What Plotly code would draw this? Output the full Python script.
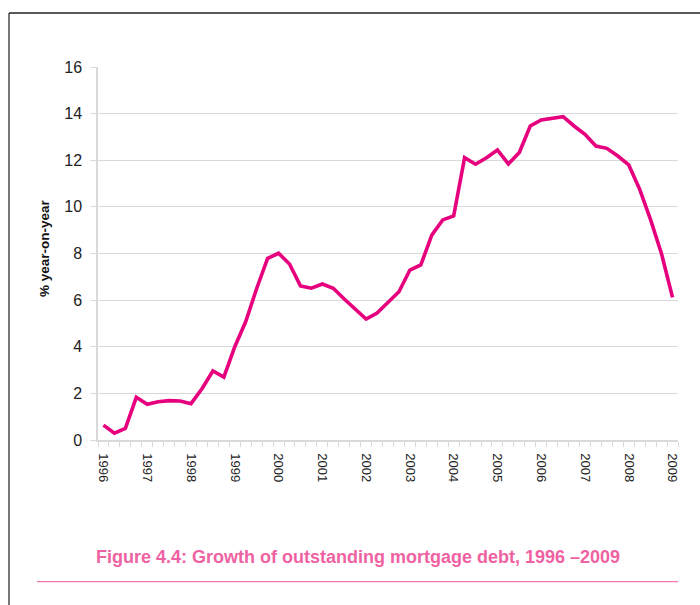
import plotly.graph_objects as go

# Quarterly observations, 1996 Q1 - 2009 Q1
years = list(range(1996, 2010))
quarters = [f"{y} Q{q}" for y in range(1996, 2010) for q in range(1, 5)][:53]
growth = [
    0.64, 0.29, 0.50, 1.83, 1.53, 1.64, 1.69, 1.67,
    1.56, 2.20, 2.96, 2.70, 4.00, 5.08, 6.50, 7.79,
    8.01, 7.55, 6.61, 6.51, 6.69, 6.51, 6.05, 5.62,
    5.19, 5.45, 5.88, 6.36, 7.29, 7.51, 8.79, 9.44,
    9.61, 12.11, 11.83, 12.11, 12.44, 11.84, 12.33, 13.47,
    13.73, 13.80, 13.87, 13.47, 13.11, 12.61, 12.51, 12.18,
    11.80, 10.75, 9.44, 7.98, 6.12,
]
year_labels = [str(y) for y in years]

x_idx = list(range(len(quarters)))
tick_pos = [quarters.index(f"{y} Q1") for y in years]

FONT = "Liberation Sans, Arial, sans-serif"
GRID = "#d9d9d9"

fig = go.Figure()
fig.add_trace(go.Scatter(
    x=x_idx, y=growth, mode="lines",
    line=dict(color="#e6007e", width=3.6),
    customdata=quarters, hovertemplate="%{customdata}: %{y}<extra></extra>",
    showlegend=False,
))

L, R, T, B = 98, 22, 67, 165
W, H = 700, 605
pw, ph = W - L - R, H - T - B

def px(xp):
    return (xp - L) / pw

def py(yp):
    return (H - B - yp) / ph

fig.update_layout(
    width=W, height=H,
    margin=dict(l=L, r=R, t=T, b=B, pad=0),
    paper_bgcolor="white", plot_bgcolor="white",
    xaxis=dict(
        range=[-0.5, len(quarters) - 0.5],
        tickmode="array", tickvals=tick_pos, ticktext=year_labels,
        tickangle=90, ticks="", showgrid=False, zeroline=False,
        showline=True, linecolor=GRID, linewidth=1.5,
        tickfont=dict(family=FONT, size=13, color="#222"),
        ticklabelstandoff=9,
        minor=dict(tick0=-0.5, dtick=1, ticks="outside", ticklen=5,
                   tickcolor=GRID, tickwidth=1, showgrid=False),
    ),
    yaxis=dict(
        range=[0, 16], dtick=2, tick0=0,
        showgrid=True, gridcolor=GRID, gridwidth=1,
        zeroline=False, showline=True, linecolor=GRID, linewidth=1.5,
        ticks="outside", ticklen=6, tickcolor=GRID,
        tickfont=dict(family=FONT, size=16, color="#222"),
        ticklabelstandoff=5,
    ),
    annotations=[
        dict(text="% year-on-year", textangle=-90, x=px(44), y=py(248),
             xref="paper", yref="paper", xanchor="center", yanchor="middle",
             showarrow=False,
             font=dict(family=FONT, size=13.5, color="#111", weight="bold")),
        dict(text="Figure 4.4: Growth of outstanding mortgage debt, 1996 \u20132009",
             x=px(358), y=py(557), xref="paper", yref="paper",
             xanchor="center", yanchor="middle", showarrow=False,
             font=dict(family=FONT, size=18, color="#ef62a2", weight="bold")),
    ],
    shapes=[
        dict(type="line", xref="paper", yref="paper",
             x0=px(37), x1=px(678), y0=py(581.7), y1=py(581.7),
             line=dict(color="#ee78b0", width=1.3)),
        dict(type="line", xref="paper", yref="paper",
             x0=px(9), x1=px(9), y0=py(605), y1=py(13),
             line=dict(color="#777777", width=2)),
        dict(type="line", xref="paper", yref="paper",
             x0=px(9), x1=px(701), y0=py(13), y1=py(13),
             line=dict(color="#222222", width=1.3)),
    ],
)

fig.write_html("out.html", config={"displayModeBar": False},
               post_script="document.body.style.margin='0';")
